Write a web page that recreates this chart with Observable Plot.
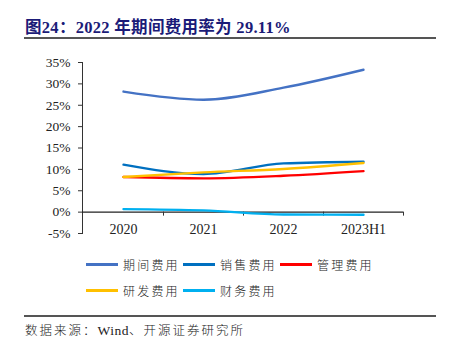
<!DOCTYPE html>
<html><head><meta charset="utf-8">
<script src="https://cdn.jsdelivr.net/npm/d3@7"></script>
<script src="https://cdn.jsdelivr.net/npm/@observablehq/plot@0.6"></script>
<style>
body{margin:0;background:#fff;}
#wrap{position:relative;width:449px;height:341px;overflow:hidden;font-family:"Liberation Serif","Noto Sans CJK SC",serif;}
#title{position:absolute;left:25px;top:14px;font-size:16.5px;font-weight:bold;color:#1b1b78;white-space:nowrap;letter-spacing:0.3px;}
.hr{position:absolute;left:24px;width:412px;height:1.5px;background:#555;}
#chart{position:absolute;left:0;top:50px;}
#legend{position:absolute;left:86px;top:251px;font-family:"Noto Sans CJK SC",sans-serif;font-weight:300;font-size:12px;color:#222;}
.row{display:flex;height:26px;align-items:center;}
.item{display:flex;align-items:center;width:97px;}
.sw{width:32px;height:3px;margin-right:5px;}
.lab{letter-spacing:2.2px;}
#source{position:absolute;left:25px;top:320px;font-size:12.5px;font-weight:300;color:#222;font-family:"Noto Sans CJK SC",sans-serif;letter-spacing:2px;white-space:nowrap;}
#source .w{font-family:"Liberation Serif",serif;font-weight:normal;letter-spacing:0.5px;font-size:13.5px;}
</style></head>
<body>
<div id="wrap">
<div id="title">图24：2022 年期间费用率为 29.11%</div>
<div class="hr" style="top:37px"></div>
<div id="chart"></div>
<div id="legend"></div>
<div class="hr" style="top:315px"></div>
<div id="source">数据来源：<span class="w">Wind</span>、开源证券研究所</div>
</div>
<script>
const periods = ["2020", "2021", "2022", "2023H1"];
const seriesNames = ["期间费用", "销售费用", "管理费用", "研发费用", "财务费用"];
const seriesColors = ["#4472C4", "#0070C0", "#FF0000", "#FFC000", "#00B0F0"];
const periodExpense = [28.2, 26.3, 29.11, 33.3];
const salesExpense = [11.1, 8.9, 11.4, 11.8];
const adminExpense = [8.2, 7.9, 8.5, 9.6];
const rdExpense = [8.2, 9.3, 10.1, 11.5];
const financeExpense = [0.7, 0.4, -0.55, -0.6];
const yTicks = [-5, 0, 5, 10, 15, 20, 25, 30, 35];

const allSeries = [periodExpense, salesExpense, adminExpense, rdExpense, financeExpense];
const data = [];
seriesNames.forEach((s, i) => periods.forEach((p, j) => data.push({series: s, period: p, value: allSeries[i][j]})));

const chart = Plot.plot({
  width: 449,
  height: 200,
  marginLeft: 82,
  marginRight: 46,
  marginTop: 12,
  marginBottom: 17,
  style: {fontFamily: "Liberation Serif, serif", fontSize: "13.5px", color: "#222", background: "transparent"},
  x: {type: "band", domain: periods, padding: 0},
  y: {domain: [-5, 35]},
  color: {domain: seriesNames, range: seriesColors},
  marks: [
    Plot.frame({anchor: "left", stroke: "#333"}),
    Plot.axisY({ticks: yTicks, tickSize: 4, tickPadding: 8, tickFormat: d => d + "%", label: null, stroke: "#333"}),
    Plot.ruleY([0], {stroke: "#222", strokeWidth: 1.2}),
    Plot.ruleX(periods, {x: d => d, y1: 0, y2: 0, dx: 40, insetBottom: -4, stroke: "#333"}),
    Plot.axisX({tickSize: 0, tickPadding: -9, label: null, fontSize: 14}),
    Plot.line(data, {x: "period", y: "value", z: "series", stroke: "series", strokeWidth: 2.4, curve: "monotone-x"})
  ]
});
document.getElementById("chart").appendChild(chart);

const legend = document.getElementById("legend");
const rows = [[0, 1, 2], [3, 4]];
rows.forEach(r => {
  const row = document.createElement("div");
  row.className = "row";
  r.forEach(i => {
    const it = document.createElement("div");
    it.className = "item";
    it.innerHTML = `<span class="sw" style="background:${seriesColors[i]}"></span><span class="lab">${seriesNames[i]}</span>`;
    row.appendChild(it);
  });
  legend.appendChild(row);
});
</script>
</body></html>
